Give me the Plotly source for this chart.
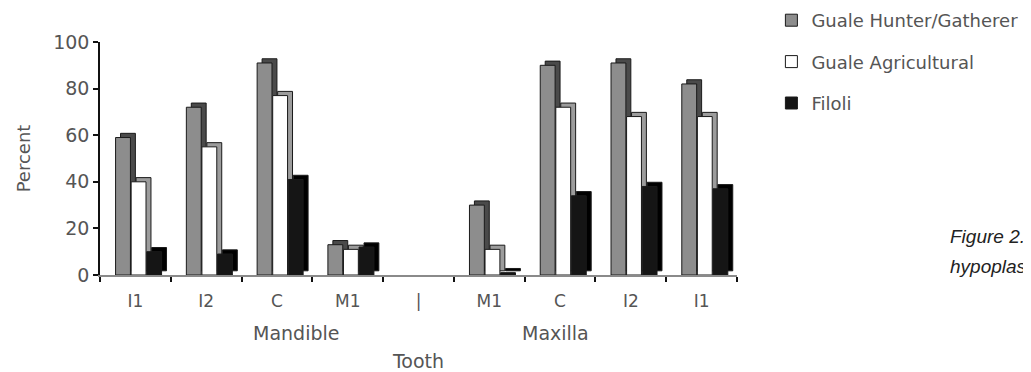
import plotly.graph_objects as go

# ---- data ----
teeth = ["I1", "I2", "C", "M1", "|", "M1", "C", "I2", "I1"]
hunter_gatherer = [59, 72, 91, 13, None, 30, 90, 91, 82]
agricultural = [40, 55, 77, 11, None, 11, 72, 68, 68]
filoli = [10, 9, 41, 12, None, 1, 34, 38, 37]
series_names = ["Guale Hunter/Gatherer", "Guale Agricultural", "Filoli"]
group_labels = ["Mandible", "Maxilla"]
y_ticks = [0, 20, 40, 60, 80, 100]

# ---- style ----
front_colors = ["#8d8d8d", "#ffffff", "#151515"]
back_colors = ["#4a4a4a", "#9c9c9c", "#000000"]
outline = "#1a1a1a"
FONT = "DejaVu Sans"
TXT = "#555555"

bar_w = 0.21      # front face width (category units)
step = 0.22       # distance between series
first = -0.28     # offset of first series from category centre
dx = 0.07         # 3D depth to the right
dy = 1.8          # 3D depth upward (percent units)

# page body has an 8px margin; figure is sized to compensate
W, H = 1023, 364
ML, MR, MT, MB = 92, 294, 34, 97
PW = W - ML - MR
PH = H - MT - MB

xs = list(range(len(teeth)))
fig = go.Figure()
for i, (name, vals) in enumerate(zip(series_names, [hunter_gatherer, agricultural, filoli])):
    off = first + i * step
    fig.add_trace(go.Bar(
        x=xs, y=vals, base=dy, offset=off + dx, width=bar_w,
        marker=dict(color=back_colors[i], line=dict(color=outline, width=1)),
        showlegend=False, legendgroup=name, hoverinfo="skip"))
    fig.add_trace(go.Bar(
        x=xs, y=vals, offset=off, width=bar_w, name=name, legendgroup=name,
        marker=dict(color=front_colors[i], line=dict(color=outline, width=1))))

fig.update_layout(
    width=W, height=H,
    margin=dict(l=ML, r=MR, t=MT, b=MB, autoexpand=False),
    plot_bgcolor="white", paper_bgcolor="white",
    barmode="overlay",
    font=dict(family=FONT, color=TXT, size=17),
    legend=dict(x=1.054, y=1 + 40 / PH, xanchor="left", yanchor="top",
                tracegroupgap=15, font=dict(size=18, color=TXT),
                bgcolor="rgba(0,0,0,0)"),
    xaxis=dict(
        range=[-0.5, len(teeth) - 0.5],
        tickvals=xs, ticktext=teeth,
        ticks="outside", ticklen=10, tickcolor="rgba(0,0,0,0)",
        tickfont=dict(size=17, color=TXT),
        showline=True, linecolor="#8a8a8a", linewidth=2,
        showgrid=False, zeroline=False, automargin=False,
        minor=dict(tickvals=[v - 0.5 for v in range(len(teeth) + 1)],
                   ticks="outside", ticklen=5, tickcolor="#111", tickwidth=1.5,
                   showgrid=False),
        title=dict(text="Tooth", standoff=45, font=dict(size=19, color=TXT)),
    ),
    yaxis=dict(
        range=[0, 100], tickvals=y_ticks,
        ticks="outside", ticklen=5, tickcolor="#111", tickwidth=1.5,
        tickfont=dict(size=19, color=TXT),
        showline=True, linecolor="#111", linewidth=1.5,
        showgrid=False, zeroline=False, automargin=False,
        title=dict(text="Percent", standoff=18, font=dict(size=18, color=TXT)),
    ),
)

# group labels under the tooth names
for lab, xpos in zip(group_labels, [2.27, 5.94]):
    fig.add_annotation(text=lab, x=xpos, xref="x", y=-58 / PH, yref="paper",
                       showarrow=False, font=dict(size=19, color=TXT),
                       xanchor="center", yanchor="middle")

# cropped caption text at the right edge
cap_font = dict(family="Liberation Sans", size=19, color="#222")
for txt, ypx in [("<i>Figure 2.</i>", 236), ("<i>hypoplas</i>", 266)]:
    fig.add_annotation(text=txt, x=(948 - 100) / PW, xref="paper",
                       y=(275 - ypx) / PH, yref="paper", xanchor="left",
                       yanchor="middle", showarrow=False, font=cap_font)

fig.write_html("out.html")
